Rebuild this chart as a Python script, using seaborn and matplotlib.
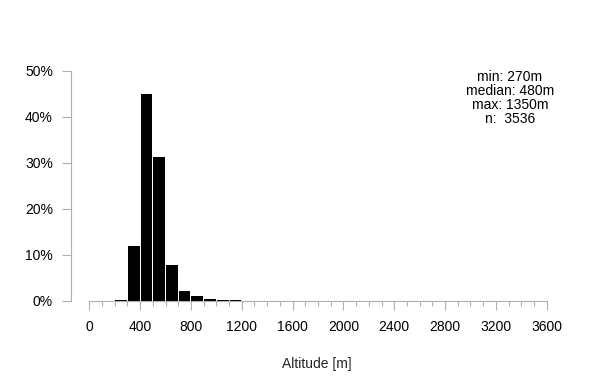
import numpy as np
import matplotlib
matplotlib.use("Agg")
import matplotlib.pyplot as plt
import seaborn as sns
from matplotlib.ticker import FixedLocator, FuncFormatter

# ---- data (percent of observations per 100 m altitude bin) ----
bin_start = [200, 300, 400, 500, 600, 700, 800, 900, 1000, 1100, 1200, 1300]
percent = [0.2, 12.0, 45.0, 31.2, 7.8, 2.2, 1.0, 0.4, 0.3, 0.15, 0.1, 0.06]
bin_edges = list(range(0, 3700, 100))
x_ticks = [0, 400, 800, 1200, 1600, 2000, 2400, 2800, 3200, 3600]
y_ticks = [0, 10, 20, 30, 40, 50]
stat_min, stat_median, stat_max, stat_n = 270, 480, 1350, 3536

sns.set_theme(style="white")
plt.rcParams["font.family"] = ["Liberation Sans", "DejaVu Sans"]
plt.rcParams["font.size"] = 10

fig = plt.figure(figsize=(6, 3.9), dpi=100)
ax = fig.add_axes([71 / 600, 0.2046, 489 / 600, 0.6377])

centers = [b + 50 for b in bin_start]
sns.histplot(x=centers, weights=percent, bins=bin_edges, stat="count",
             color="black", edgecolor="none", linewidth=0, alpha=1,
             shrink=0.92, ax=ax)

ax.set_xlim(-144, 3704.6)
ax.set_ylim(-2, 52)

axis_col = "#b0b0b0"
for s in ["top", "right"]:
    ax.spines[s].set_visible(False)
ax.spines["left"].set_bounds(0, 50)
ax.spines["bottom"].set_position(("data", 0))
ax.spines["bottom"].set_bounds(0, 3600)
for s in ["left", "bottom"]:
    ax.spines[s].set_color(axis_col)
    ax.spines[s].set_linewidth(0.8)

ax.set_xticks(x_ticks)
ax.xaxis.set_minor_locator(FixedLocator([e for e in bin_edges if e not in x_ticks]))
ax.set_yticks(y_ticks)
ax.yaxis.set_major_formatter(FuncFormatter(lambda v, p: f"{int(v)}%"))
ax.tick_params(axis="both", which="major", direction="out", length=6.5,
               width=0.8, color=axis_col, labelsize=10, labelcolor="black")
ax.tick_params(axis="x", which="major", pad=7.5)
ax.tick_params(axis="y", which="major", pad=6.5)
ax.tick_params(axis="x", which="minor", direction="out", length=3.8,
               width=0.8, color=axis_col, bottom=True)
ax.tick_params(left=True, bottom=True)

ax.set_ylabel("")
ax.set_xlabel("Altitude [m]", fontsize=10)
ax.xaxis.set_label_coords((317 - 71) / 489, (310.2 - 364) / 248.7)
ax.xaxis.label.set_va("center")

lines = [f"min: {stat_min}m", f"median: {stat_median}m",
         f"max: {stat_max}m", f"n:  {stat_n}"]
ys = [76.7, 91.0, 105.2, 119.3]
for t, yp in zip(lines, ys):
    fig.text(510 / 600, 1 - yp / 390, t, ha="center", va="center",
             fontsize=10, color="black")

fig.savefig("out.png", dpi=100)
